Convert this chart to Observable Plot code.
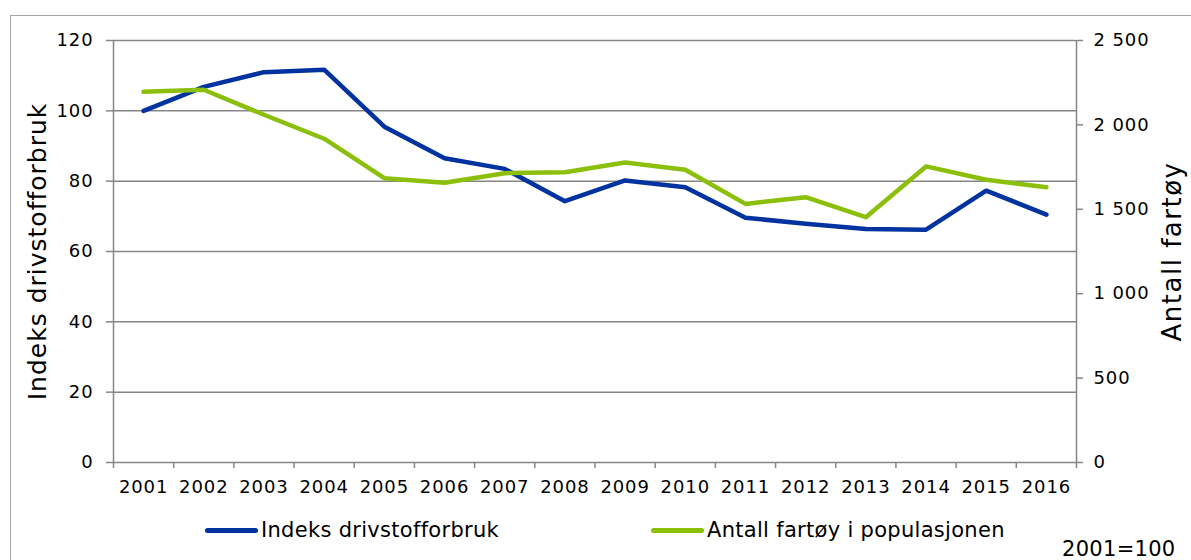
<!DOCTYPE html>
<html>
<head>
<meta charset="utf-8">
<script src="https://cdn.jsdelivr.net/npm/d3@7"></script>
<script src="https://cdn.jsdelivr.net/npm/@observablehq/plot@0.6"></script>
<style>
  html, body { margin: 0; padding: 0; background: #fff; overflow: hidden; }
  #wrap { position: relative; width: 1191px; height: 560px; font-family: "DejaVu Sans", Verdana, sans-serif; color: #000; }
  #frame { position: absolute; left: 10px; top: 15px; width: 1400px; height: 800px; border-left: 1.5px solid #a6a6a6; border-top: 1.5px solid #a6a6a6; }
  #chart { position: absolute; left: 0; top: 0; }
  #chart svg text { letter-spacing: 0.9px; }
  .leg { position: absolute; font-size: 21px; line-height: 21px; white-space: nowrap; letter-spacing: 0.3px; }
  .sw { position: absolute; width: 53px; height: 4.5px; border-radius: 2.5px; }
</style>
</head>
<body>
<div id="wrap">
  <div id="frame"></div>
  <div id="chart"></div>
  <div id="legend"></div>
</div>
<script>
// ---- data ----
const years = [2001, 2002, 2003, 2004, 2005, 2006, 2007, 2008, 2009, 2010, 2011, 2012, 2013, 2014, 2015, 2016];
const fuelIndex = [100, 106.8, 111.0, 111.7, 95.5, 86.5, 83.5, 74.3, 80.2, 78.3, 69.6, 67.9, 66.4, 66.2, 77.3, 70.5];
const vesselCount = [2196, 2208, 2060, 1918, 1684, 1657, 1714, 1720, 1777, 1734, 1532, 1572, 1453, 1754, 1675, 1631];
const leftTicks = [0, 20, 40, 60, 80, 100, 120];
const rightTicks = [0, 500, 1000, 1500, 2000, 2500];
const rightTickLabels = ["0", "500", "1 000", "1 500", "2 000", "2 500"];
const seriesNames = ["Indeks drivstofforbruk", "Antall fartøy i populasjonen"];
const seriesColors = ["#0033a0", "#8cbf0a"];
const leftTitle = "Indeks drivstofforbruk";
const rightTitle = "Antall fartøy";
const note = "2001=100";

// ---- derived ----
const leftMax = leftTicks[leftTicks.length - 1];
const rightMax = rightTicks[rightTicks.length - 1];
const k = leftMax / rightMax;
const rows = years.map((year, i) => ({ year, fuel: fuelIndex[i], vessels: vesselCount[i] }));
const edges = years.map(y => y - 0.5).concat([years[years.length - 1] + 0.5]);
const x0 = edges[0], x1 = edges[edges.length - 1];
const grey = "#868686";

const chart = Plot.plot({
  width: 1191,
  height: 500,
  marginTop: 40,
  marginBottom: 38,
  marginLeft: 113,
  marginRight: 115,
  style: { fontFamily: "DejaVu Sans, Verdana, sans-serif", fontSize: "18px", color: "#000", background: "transparent", overflow: "visible" },
  x: { domain: [x0, x1], axis: null },
  y: { domain: [0, leftMax], axis: null },
  marks: [
    Plot.gridY(leftTicks.filter(d => d > 0), { stroke: grey, strokeOpacity: 1, strokeWidth: 1.5 }),
    Plot.ruleX([x0, x1], { stroke: grey, strokeWidth: 1.5 }),
    Plot.ruleY([0], { stroke: grey, strokeWidth: 1.5 }),
    Plot.axisY(leftTicks, { anchor: "left", tickSize: 7, tickPadding: 13, stroke: grey, strokeWidth: 1.5, fill: "#000", label: null, tickFormat: d => String(d) }),
    Plot.axisY(rightTicks.map(v => v * k), {
      anchor: "right", tickSize: 6, tickPadding: 11, stroke: grey, strokeWidth: 1.5, fill: "#000", label: null,
      tickFormat: d => rightTickLabels[rightTicks.indexOf(Math.round(d / k))]
    }),
    Plot.axisX(edges, { anchor: "bottom", tickSize: 6, stroke: grey, strokeWidth: 1.5, label: null, tickFormat: () => "" }),
    Plot.axisX(years, { anchor: "bottom", tickSize: 0, tickPadding: 18, fill: "#000", label: null, tickFormat: d => String(d) }),
    Plot.line(rows, { x: "year", y: "fuel", stroke: seriesColors[0], strokeWidth: 4.5, strokeLinejoin: "round", strokeLinecap: "round" }),
    Plot.line(rows, { x: "year", y: d => d.vessels * k, stroke: seriesColors[1], strokeWidth: 4.5, strokeLinejoin: "round", strokeLinecap: "round" }),
    Plot.text([leftTitle], { text: d => d, frameAnchor: "left", textAnchor: "middle", dx: -76, rotate: -90, fontSize: 25, fill: "#000" }),
    Plot.text([rightTitle], { text: d => d, frameAnchor: "right", textAnchor: "middle", dx: 96, rotate: -90, fontSize: 26, fill: "#000" })
  ]
});
document.getElementById("chart").appendChild(chart);

// title spacing
d3.select(chart).selectAll("text").each(function () {
  if (this.textContent === leftTitle) this.style.letterSpacing = "1px";
  if (this.textContent === rightTitle) this.style.letterSpacing = "1.5px";
});

// ---- legend ----
const legend = document.getElementById("legend");
const legendX = [205, 651];
seriesNames.forEach((name, i) => {
  const sw = document.createElement("div");
  sw.className = "sw";
  sw.style.left = legendX[i] + "px";
  sw.style.top = "528px";
  sw.style.background = seriesColors[i];
  legend.appendChild(sw);
  const t = document.createElement("div");
  t.className = "leg";
  t.style.left = (legendX[i] + 56) + "px";
  t.style.top = "520px";
  t.textContent = name;
  legend.appendChild(t);
});
const n = document.createElement("div");
n.className = "leg";
n.style.left = "1062px";
n.style.top = "539px";
n.textContent = note;
legend.appendChild(n);
</script>
</body>
</html>
